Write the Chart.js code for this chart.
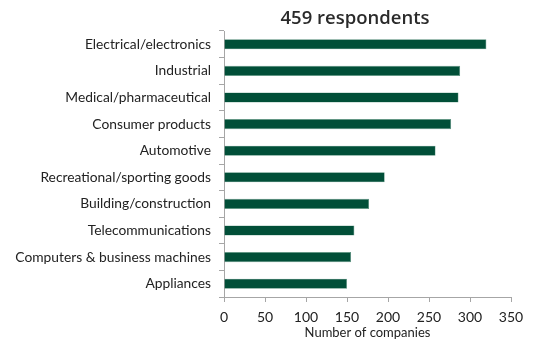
<!DOCTYPE html>
<html>
<head>
<meta charset="utf-8">
<script src="https://cdn.jsdelivr.net/npm/chart.js@4/dist/chart.umd.min.js"></script>
<style>
  html, body { margin: 0; padding: 0; background: #fff; }
  #wrap { width: 539px; height: 339px; }
</style>
</head>
<body>
<div id="wrap"><canvas id="c" width="539" height="339"></canvas></div>
<script>
const industries = [
  "Electrical/electronics",
  "Industrial",
  "Medical/pharmaceutical",
  "Consumer products",
  "Automotive",
  "Recreational/sporting goods",
  "Building/construction",
  "Telecommunications",
  "Computers & business machines",
  "Appliances"
];
const companyCounts = [320, 288, 286, 277, 258, 196, 177, 159, 155, 150];
const xTicks = [0, 50, 100, 150, 200, 250, 300, 350];
const titleText = "459 respondents";
const xTitle = "Number of companies";

const barGreen = "#014f38";
const axisGrey = "#a6a6a6";

// heading drawn above the plot
const headingPlugin = {
  id: "heading",
  afterDraw(chart) {
    const ctx = chart.ctx;
    ctx.save();
    ctx.font = "600 18.5px 'Open Sans'";
    ctx.fillStyle = "#2a2a2a";
    ctx.textAlign = "center";
    ctx.textBaseline = "middle";
    ctx.fillText(titleText, 355, 19);
    ctx.restore();
  }
};

new Chart(document.getElementById("c"), {
  type: "bar",
  data: {
    labels: industries,
    datasets: [{
      data: companyCounts,
      backgroundColor: barGreen,
      borderColor: "#5d9580",
      borderWidth: 0.6,
      barPercentage: 0.38,
      categoryPercentage: 1
    }]
  },
  options: {
    indexAxis: "y",
    responsive: false,
    animation: false,
    layout: { padding: { top: 31, right: 28, left: 0, bottom: 0 } },
    plugins: {
      legend: { display: false },
      tooltip: { enabled: false }
    },
    scales: {
      x: {
        min: 0,
        max: 350,
        afterBuildTicks(scale) { scale.ticks = xTicks.map(v => ({ value: v })); },
        afterFit(scale) { scale.height = 42; },
        grid: { display: true, drawOnChartArea: false, color: axisGrey, tickLength: 5 },
        border: { display: true, color: axisGrey, width: 1 },
        ticks: { color: "#222", font: { family: "Lato", size: 14 }, padding: 7, maxRotation: 0 },
        title: { display: true, text: xTitle, color: "#222", font: { family: "Lato", size: 13 }, padding: { top: 0, bottom: -2 } }
      },
      y: {
        afterFit(scale) { scale.width = 224; },
        grid: { display: true, drawOnChartArea: false, color: axisGrey, tickLength: 5, offset: true },
        border: { display: true, color: axisGrey, width: 1 },
        ticks: { color: "#222", font: { family: "Lato", size: 13.8 }, padding: 8 }
      }
    }
  },
  plugins: [headingPlugin]
});
</script>
</body>
</html>
